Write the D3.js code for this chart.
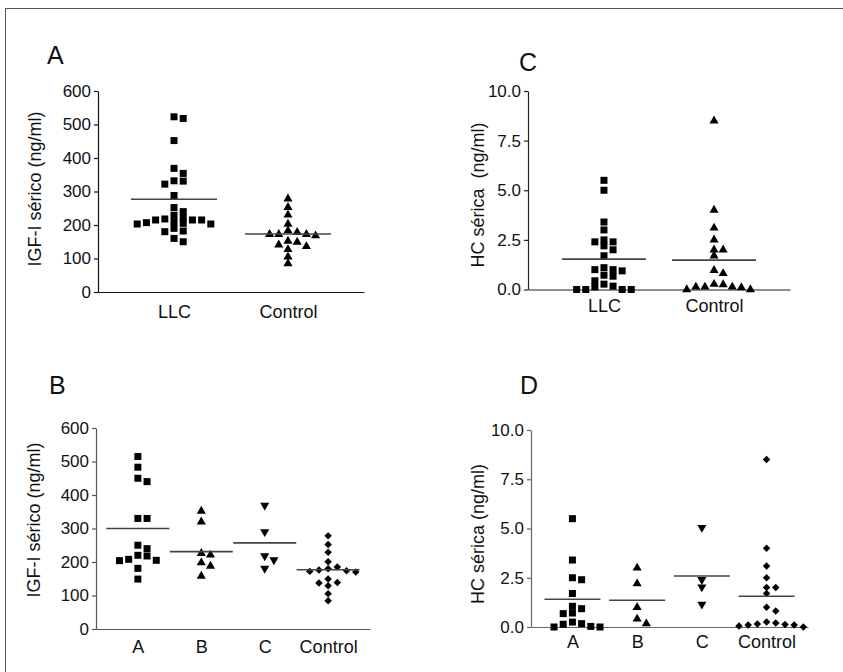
<!DOCTYPE html>
<html><head><meta charset="utf-8">
<script src="https://cdn.jsdelivr.net/npm/d3@7/dist/d3.min.js"></script>
<style>body{margin:0;background:#fff}svg{display:block}</style>
</head><body>
<script>
// ---- data ----
const catsTop = ["LLC", "Control"];
const catsBottom = ["A", "B", "C", "Control"];
const igfTicks = [0, 100, 200, 300, 400, 500, 600];
const hcTicks = [0, 2.5, 5, 7.5, 10];

// Panel A: IGF-I
const igfLLC = [518, 523, 452, 369, 354, 332, 331, 322, 288, 252, 240, 229, 222, 218, 215, 215, 215, 210, 207, 205, 203, 203, 190, 182, 180, 160, 150];
const igfControl = [278, 253, 230, 203, 183, 178, 172, 172, 172, 168, 152, 149, 141, 136, 127, 105, 85];
const igfTopMeans = [277, 173];

// Panel C: HC
const hcLLC = [5.5, 5.0, 3.4, 3.0, 2.5, 2.4, 2.4, 2.2, 2.0, 1.7, 1.1, 1.0, 1.0, 0.94, 0.72, 0.67, 0.44, 0.27, 0.17, 0.13, 0, 0, 0, 0];
const hcControl = [8.5, 4.0, 3.1, 2.5, 2.0, 2.0, 1.7, 0.97, 0.81, 0.27, 0.25, 0.13, 0.13, 0.13, 0.1, 0, 0];
const hcTopMeans = [1.53, 1.48];

// Panel B: IGF-I by group
const igfA = [515, 483, 440, 450, 330, 330, 250, 240, 220, 218, 208, 205, 204, 181, 149];
const igfB = [352, 320, 226, 221, 198, 188, 158];
const igfC = [369, 290, 218, 206, 181];
const igfCtrl = [278, 252, 229, 201, 185, 180, 176, 174, 172, 170, 149, 139, 137, 129, 105, 84];
const igfBottomMeans = [300, 231, 257, 177];

// Panel D: HC by group
const hcA = [5.5, 3.4, 2.5, 2.4, 1.7, 1.05, 0.93, 0.71, 0.68, 0.25, 0.17, 0.14, 0.03, 0, 0];
const hcB = [3.0, 2.2, 1.0, 0.41, 0.17];
const hcC = [5.05, 2.4, 2.03, 1.15];
const hcCtrl = [8.5, 4.0, 3.1, 2.5, 2.0, 2.0, 1.7, 1.0, 0.81, 0.25, 0.2, 0.15, 0.13, 0.1, 0.1, 0.05, 0];
const hcBottomMeans = [1.41, 1.36, 2.59, 1.56];

// ---- drawing ----
const W = 843, H = 672;
const FONT = "'Liberation Sans', Arial, Helvetica, sans-serif";
const svg = d3.select("body").append("svg").attr("width", W).attr("height", H);
svg.append("rect").attr("x", 5.5).attr("y", 8.5).attr("width", 900).attr("height", 700)
  .attr("fill", "none").attr("stroke", "#555").attr("stroke-width", 1);

const shapes = {
  square: {type: d3.symbolSquare, size: 49, rot: 0},
  tri: {type: d3.symbolTriangle, size: 36, rot: 0},
  itri: {type: d3.symbolTriangle, size: 36, rot: 180},
  diamond: {type: d3.symbolSquare, size: 28, rot: 45}
};

function swarm(values, y, minDy) {
  const idx = values.map((v, i) => i).sort((a, b) => values[b] - values[a]);
  const placed = [], off = new Array(values.length);
  for (const i of idx) {
    const py = y(values[i]);
    for (let k = 0; ; k++) {
      const o = k === 0 ? 0 : (k % 2 ? (k + 1) / 2 : -k / 2);
      if (!placed.some(p => p.o === o && Math.abs(p.py - py) < minDy)) {
        off[i] = o; placed.push({py, o}); break;
      }
    }
  }
  return off;
}

function panel(c) {
  const g = svg.append("g");
  const x = d3.scalePoint().domain(c.cats).range(c.xr).padding(c.pad);
  const y = d3.scaleLinear().domain(c.yd).range(c.yr);

  const ya = g.append("g").attr("transform", `translate(${c.xr[0]},0)`)
    .call(d3.axisLeft(y).tickValues(c.ticks).tickFormat(c.fmt).tickSize(4).tickSizeOuter(0).tickPadding(3));
  const xa = g.append("g").attr("transform", `translate(0,${c.yr[0]})`)
    .call(d3.axisBottom(x).tickSize(0).tickSizeOuter(0).tickPadding(c.xpad));
  [ya, xa].forEach(a => {
    a.attr("font-family", null).attr("font-size", null);
    a.selectAll("path,line").attr("stroke", c.axisColor).attr("stroke-width", 1.2);
    a.selectAll("text").attr("fill", "#111").style("font-family", FONT);
  });
  ya.selectAll("text").style("font-size", "17px");
  xa.selectAll("text").style("font-size", "18px");

  c.groups.forEach((vals, gi) => {
    const sh = shapes[c.shapes[gi]];
    const off = swarm(vals, y, 5.6);
    const cx = x(c.cats[gi]);
    g.append("g").selectAll("path").data(vals).join("path")
      .attr("d", d3.symbol().type(sh.type).size(sh.size))
      .attr("transform", (d, i) => `translate(${cx + off[i] * c.step},${y(d)}) rotate(${sh.rot})`)
      .attr("fill", "#000");
    g.append("line")
      .attr("x1", cx - c.lineW / 2).attr("x2", cx + c.lineW / 2)
      .attr("y1", y(c.means[gi])).attr("y2", y(c.means[gi]))
      .attr("stroke", "#444").attr("stroke-width", 1.6);
  });

  g.append("text").attr("transform", `translate(${c.titleX},${c.titleY}) rotate(-90)`)
    .attr("text-anchor", "middle").style("font-family", FONT).style("font-size", "18px")
    .attr("fill", "#111").style("white-space", "pre").text(c.title);
  g.append("text").attr("x", c.letter[1]).attr("y", c.letter[2])
    .style("font-family", FONT).style("font-size", "25px").attr("fill", "#111").text(c.letter[0]);
}

panel({cats: catsTop, xr: [98, 364], pad: 0.667, yd: [0, 600], yr: [292, 91],
  ticks: igfTicks, fmt: d3.format("d"), xpad: 13, axisColor: "#111",
  groups: [igfLLC, igfControl], shapes: ["square", "tri"], means: igfTopMeans,
  step: 9.2, lineW: 86, title: "IGF-I sérico (ng/ml)", titleX: 41, titleY: 189, letter: ["A", 47, 64]});

panel({cats: catsTop, xr: [528, 790], pad: 0.69, yd: [0, 10], yr: [289.5, 91],
  ticks: hcTicks, fmt: d3.format(".1f"), xpad: 10, axisColor: "#222",
  groups: [hcLLC, hcControl], shapes: ["square", "tri"], means: hcTopMeans,
  step: 9.1, lineW: 84, title: "HC sérica  (ng/ml)", titleX: 484, titleY: 195, letter: ["C", 519, 71]});

panel({cats: catsBottom, xr: [96, 370], pad: 0.66, yd: [0, 600], yr: [629, 428],
  ticks: igfTicks, fmt: d3.format("d"), xpad: 11, axisColor: "#555",
  groups: [igfA, igfB, igfC, igfCtrl], shapes: ["square", "tri", "itri", "diamond"], means: igfBottomMeans,
  step: 9.2, lineW: 63, title: "IGF-I sérico (ng/ml)", titleX: 40, titleY: 520, letter: ["B", 49, 394]});

panel({cats: catsBottom, xr: [531, 808], pad: 0.64, yd: [0, 10], yr: [627, 430],
  ticks: hcTicks, fmt: d3.format(".1f"), xpad: 8, axisColor: "#666",
  groups: [hcA, hcB, hcC, hcCtrl], shapes: ["square", "tri", "itri", "diamond"], means: hcBottomMeans,
  step: 9.2, lineW: 56, title: "HC sérica (ng/ml)", titleX: 484, titleY: 534, letter: ["D", 520, 394]});
</script>
</body></html>
